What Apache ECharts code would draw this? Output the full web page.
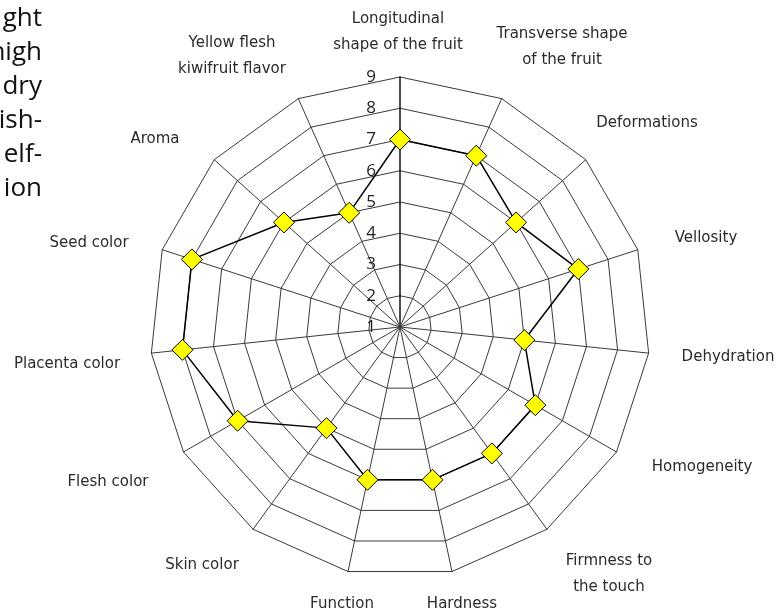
<!DOCTYPE html>
<html>
<head>
<meta charset="utf-8">
<script src="https://cdn.jsdelivr.net/npm/echarts@6/dist/echarts.min.js"></script>
<style>
html,body{margin:0;padding:0;background:#fff;}
#chart{width:782px;height:611px;}
</style>
</head>
<body>
<div id="chart"></div>
<script>
// Traits in clockwise order starting at the top
const traits = [
  'Longitudinal\nshape of the fruit',
  'Transverse shape\nof the fruit',
  'Deformations',
  'Vellosity',
  'Dehydration',
  'Homogeneity',
  'Firmness to\nthe touch',
  'Hardness',
  'Function',
  'Skin color',
  'Flesh color',
  'Placenta color',
  'Seed color',
  'Aroma',
  'Yellow flesh\nkiwifruit flavor'
];
const scores = [7, 7, 6, 7, 5, 6, 6, 6, 6, 5, 7, 8, 8, 6, 5];
const scaleMin = 1;
const scaleMax = 9;
const sideText = ['ght', 'high', 'dry', 'ish-', 'elf-', 'ion'];

// label anchor positions (centre of text block), same order as traits
const labelPos = [
  [398, 32], [562, 47], [647, 123], [706, 238], [728, 357], [702, 467],
  [609, 574], [462, 604], [342, 604], [202, 565], [108, 482], [67, 364],
  [89, 243], [155, 139], [232, 56]
];

// ECharts radar runs counter-clockwise; keep the first trait on top and reverse the rest
const order = [0].concat(traits.map((_, i) => i).slice(1).reverse());
const indicators = order.map((i, k) => {
  const o = { name: traits[i], min: scaleMin, max: scaleMax };
  if (k === 0) {
    o.axisLabel = { show: true };
    o.axisLine = { lineStyle: { color: '#111', width: 1.5 } };
  }
  return o;
});
const values = order.map(i => scores[i]);

const graphics = sideText.map((t, i) => ({
  type: 'text',
  x: 42,
  y: 19 + i * 34,
  style: {
    text: t, font: '26px "Open Sans", sans-serif', fill: '#111',
    align: 'right', verticalAlign: 'middle'
  }
})).concat(traits.map((t, i) => ({
  type: 'text',
  x: labelPos[i][0],
  y: labelPos[i][1],
  style: {
    text: t, font: '15px "DejaVu Sans", sans-serif', fill: '#2a2a2a',
    align: 'center', verticalAlign: 'middle', lineHeight: 26
  }
})));

const chart = echarts.init(document.getElementById('chart'), null, { renderer: 'canvas' });
chart.setOption({
  animation: false,
  backgroundColor: '#fff',
  graphic: graphics,
  radar: {
    center: [400, 327],
    radius: 250,
    startAngle: 90,
    splitNumber: 8,
    shape: 'polygon',
    axisName: { show: false },
    axisLine: { lineStyle: { color: '#3a3a3a', width: 1 } },
    splitLine: { lineStyle: { color: '#3a3a3a', width: 1 } },
    splitArea: { show: false },
    axisTick: { show: false },
    axisLabel: {
      show: false,
      color: '#222',
      fontSize: 17,
      fontFamily: '"Open Sans", sans-serif',
      margin: 24,
      showMinLabel: true
    },
    indicator: indicators
  },
  series: [{
    type: 'radar',
    symbol: 'diamond',
    symbolSize: 21,
    lineStyle: { color: '#000', width: 1.5 },
    itemStyle: { color: '#ffff00', borderColor: '#000', borderWidth: 1 },
    data: [{ value: values, name: 'Scores' }]
  }]
});
</script>
</body>
</html>
